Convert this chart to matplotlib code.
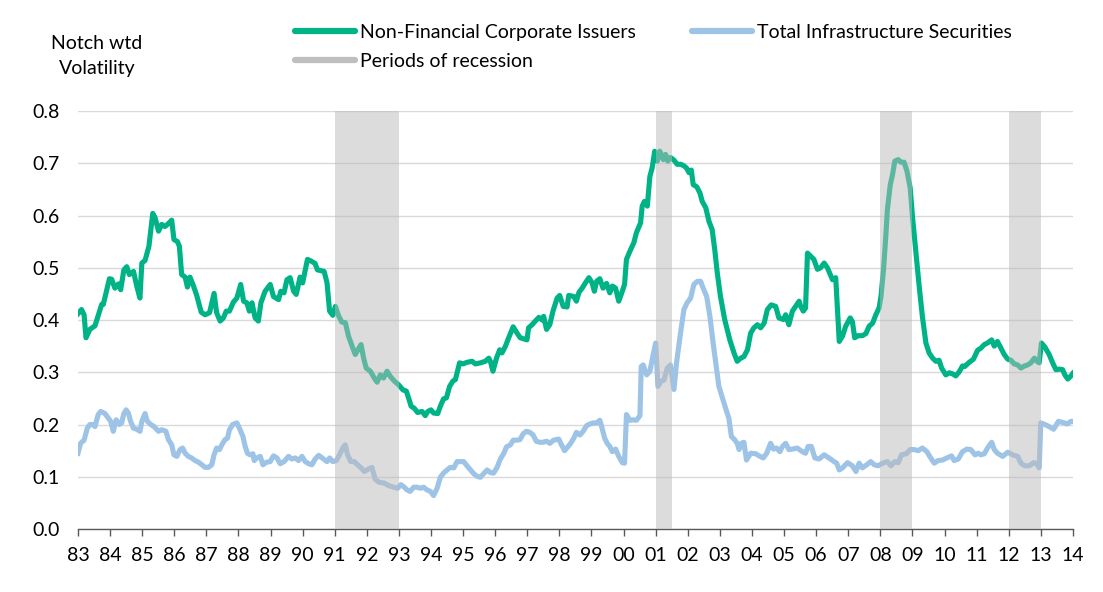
import numpy as np
import matplotlib
matplotlib.use("Agg")
import matplotlib.pyplot as plt
from matplotlib.lines import Line2D

plt.rcParams['font.family'] = ['Lato', 'DejaVu Sans']

base_year = 1983
# years after 1983 / value
nfc_t = [0.0, 0.11, 0.19, 0.25, 0.37, 0.53, 0.74, 0.79, 0.98, 1.05, 1.15, 1.26, 1.33, 1.43, 1.52, 1.60, 1.73, 1.83, 1.93, 1.99,
         2.09, 2.21, 2.33, 2.40, 2.51, 2.61, 2.71, 2.79, 2.92, 2.99, 3.10, 3.16, 3.23, 3.34, 3.41, 3.49, 3.60, 3.70, 3.84, 3.96,
         4.10, 4.24, 4.32, 4.43, 4.53, 4.62, 4.72, 4.84, 4.95, 5.07, 5.16, 5.26, 5.34, 5.42, 5.52, 5.62, 5.70, 5.83, 5.99, 6.09,
         6.25, 6.32, 6.42, 6.51, 6.61, 6.72, 6.80, 6.92, 7.00, 7.15, 7.26, 7.39, 7.46, 7.67, 7.76, 7.84, 7.94, 8.02, 8.12, 8.22,
         8.33, 8.43, 8.54, 8.64, 8.74, 8.82, 8.90, 8.98, 9.11, 9.23, 9.32, 9.42, 9.52, 9.63, 9.73, 9.86, 9.99, 10.13, 10.23, 10.30,
         10.38, 10.48, 10.58, 10.72, 10.82, 10.90, 11.00, 11.08, 11.21, 11.29, 11.39, 11.48, 11.58, 11.68, 11.76, 11.89, 12.00, 12.12, 12.28, 12.38,
         12.54, 12.69, 12.80, 12.85, 12.93, 13.04, 13.14, 13.21, 13.32, 13.42, 13.56, 13.68, 13.78, 13.89, 13.99, 14.04, 14.15, 14.25, 14.36, 14.46,
         14.51, 14.60, 14.70, 14.80, 14.93, 15.01, 15.12, 15.24, 15.29, 15.45, 15.53, 15.61, 15.71, 15.81, 15.92, 16.02, 16.09, 16.16, 16.26, 16.36,
         16.47, 16.57, 16.65, 16.75, 16.85, 16.96, 17.03, 17.09, 17.20, 17.32, 17.40, 17.53, 17.58, 17.65, 17.74, 17.82, 17.89, 17.97, 18.05, 18.13,
         18.24, 18.31, 18.38, 18.46, 18.57, 18.67, 18.78, 18.88, 18.96, 19.04, 19.11, 19.17, 19.28, 19.38, 19.45, 19.56, 19.66, 19.76, 19.84, 19.92,
         20.02, 20.15, 20.31, 20.44, 20.54, 20.65, 20.75, 20.86, 20.96, 21.06, 21.17, 21.27, 21.38, 21.48, 21.60, 21.74, 21.84, 21.98, 22.05, 22.15,
         22.26, 22.36, 22.47, 22.52, 22.60, 22.67, 22.73, 22.83, 22.93, 23.04, 23.14, 23.25, 23.35, 23.46, 23.51, 23.61, 23.66, 23.72, 23.82, 23.92,
         24.06, 24.13, 24.20, 24.31, 24.44, 24.55, 24.65, 24.76, 24.86, 24.96, 25.02, 25.10, 25.17, 25.22, 25.31, 25.38, 25.45, 25.56, 25.64, 25.74,
         25.83, 25.93, 26.00, 26.11, 26.21, 26.31, 26.42, 26.52, 26.63, 26.73, 26.83, 26.91, 27.04, 27.15, 27.25, 27.35, 27.46, 27.56, 27.63, 27.77,
         27.90, 28.03, 28.13, 28.24, 28.34, 28.47, 28.55, 28.65, 28.76, 28.86, 28.97, 29.07, 29.17, 29.28, 29.38, 29.49, 29.59, 29.69, 29.80, 29.88,
         29.95, 30.02, 30.13, 30.26, 30.37, 30.47, 30.58, 30.68, 30.75, 30.84, 30.94, 31.00]
nfc_v = [.412, .42, .41, .366, .382, .389, .43, .43, .479, .478, .461, .469, .458, .496, .502, .487, .493, .465, .442, .509,
         .514, .541, .604, .596, .57, .583, .579, .583, .591, .554, .55, .541, .487, .482, .463, .482, .465, .447, .415, .41,
         .414, .451, .414, .398, .404, .417, .417, .434, .442, .468, .436, .433, .417, .433, .404, .398, .433, .455, .468, .445,
         .439, .455, .452, .477, .481, .455, .449, .482, .471, .516, .513, .508, .496, .493, .471, .417, .409, .426, .408, .396,
         .395, .369, .35, .334, .345, .353, .327, .308, .302, .289, .281, .295, .289, .302, .292, .283, .276, .266, .264, .251,
         .235, .231, .223, .225, .217, .225, .228, .222, .221, .235, .249, .251, .273, .283, .286, .318, .316, .319, .321, .316,
         .318, .321, .327, .321, .302, .327, .343, .337, .35, .366, .387, .375, .366, .364, .362, .385, .391, .398, .405, .40,
         .407, .382, .391, .417, .442, .447, .426, .425, .447, .445, .436, .453, .461, .471, .481, .471, .455, .474, .479, .461,
         .47, .452, .465, .461, .436, .455, .468, .516, .532, .548, .567, .586, .618, .627, .618, .675, .691, .723, .704, .723,
         .707, .717, .704, .711, .706, .698, .698, .695, .691, .682, .687, .659, .655, .643, .627, .615, .589, .573, .535, .49,
         .445, .401, .362, .337, .321, .327, .33, .343, .375, .385, .391, .385, .394, .42, .429, .426, .404, .401, .41, .391,
         .417, .426, .436, .426, .417, .423, .528, .522, .516, .497, .50, .509, .50, .484, .477, .481, .426, .359, .369, .388,
         .404, .397, .366, .37, .37, .374, .388, .394, .41, .423, .445, .497, .56, .611, .659, .678, .704, .707, .702, .702,
         .685, .653, .599, .528, .465, .407, .356, .337, .327, .321, .323, .308, .295, .299, .297, .293, .301, .312, .311, .319,
         .325, .342, .346, .353, .356, .362, .35, .359, .346, .334, .325, .323, .316, .314, .308, .312, .314, .318, .327, .321,
         .318, .356, .348, .334, .318, .305, .306, .305, .295, .287, .293, .298]

infra_t = [0.0, 0.08, 0.19, 0.29, 0.37, 0.46, 0.53, 0.63, 0.71, 0.84, 0.95, 1.02, 1.10, 1.19, 1.29, 1.36, 1.43, 1.50, 1.57, 1.64,
           1.73, 1.83, 1.93, 1.99, 2.09, 2.16, 2.27, 2.37, 2.51, 2.61, 2.74, 2.82, 2.92, 2.99, 3.08, 3.18, 3.26, 3.34, 3.44, 3.54,
           3.65, 3.75, 3.86, 3.96, 4.06, 4.17, 4.24, 4.32, 4.41, 4.48, 4.58, 4.66, 4.72, 4.82, 4.95, 5.03, 5.14, 5.21, 5.28, 5.36,
           5.45, 5.49, 5.57, 5.68, 5.76, 5.88, 5.99, 6.09, 6.20, 6.30, 6.42, 6.56, 6.66, 6.77, 6.87, 6.98, 7.08, 7.19, 7.29, 7.39,
           7.50, 7.65, 7.76, 7.84, 7.94, 8.05, 8.15, 8.25, 8.33, 8.40, 8.50, 8.61, 8.71, 8.82, 8.92, 9.06, 9.16, 9.26, 9.40, 9.54,
           9.68, 9.84, 9.96, 10.06, 10.15, 10.25, 10.35, 10.46, 10.56, 10.67, 10.77, 10.87, 10.98, 11.08, 11.19, 11.29, 11.39, 11.50, 11.60, 11.71,
           11.81, 11.91, 12.02, 12.12, 12.23, 12.33, 12.43, 12.54, 12.64, 12.75, 12.85, 12.95, 13.06, 13.16, 13.27, 13.35, 13.47, 13.56, 13.66, 13.77,
           13.87, 13.97, 14.08, 14.18, 14.28, 14.39, 14.49, 14.60, 14.70, 14.82, 14.98, 15.05, 15.16, 15.26, 15.35, 15.45, 15.53, 15.64, 15.74, 15.85,
           15.95, 16.05, 16.16, 16.26, 16.33, 16.41, 16.49, 16.57, 16.65, 16.75, 16.85, 16.96, 17.03, 17.09, 17.20, 17.30, 17.40, 17.51, 17.55, 17.61,
           17.72, 17.82, 17.89, 18.00, 18.07, 18.17, 18.26, 18.36, 18.46, 18.57, 18.65, 18.76, 18.88, 18.98, 19.09, 19.19, 19.30, 19.40, 19.48, 19.59,
           19.69, 19.79, 19.90, 19.97, 20.08, 20.18, 20.28, 20.36, 20.46, 20.54, 20.60, 20.67, 20.75, 20.83, 20.96, 21.12, 21.22, 21.35, 21.46, 21.58,
           21.67, 21.77, 21.87, 21.95, 22.05, 22.15, 22.26, 22.41, 22.57, 22.67, 22.75, 22.85, 22.96, 23.09, 23.25, 23.40, 23.56, 23.64, 23.72, 23.82,
           23.98, 24.13, 24.24, 24.34, 24.44, 24.58, 24.70, 24.81, 24.93, 25.07, 25.22, 25.33, 25.45, 25.56, 25.66, 25.81, 25.93, 26.05, 26.18, 26.31,
           26.45, 26.57, 26.68, 26.80, 26.94, 27.07, 27.22, 27.30, 27.43, 27.56, 27.70, 27.82, 27.95, 28.05, 28.13, 28.24, 28.34, 28.47, 28.55, 28.65,
           28.81, 28.97, 29.12, 29.28, 29.38, 29.50, 29.64, 29.78, 29.88, 29.95, 30.00, 30.13, 30.26, 30.40, 30.55, 30.68, 30.82, 30.94, 31.00]
infra_v = [.145, .164, .17, .193, .20, .20, .196, .219, .225, .221, .212, .206, .187, .209, .20, .203, .221, .228, .222, .206,
           .193, .191, .187, .206, .221, .206, .20, .196, .187, .19, .187, .171, .161, .142, .139, .152, .155, .145, .139, .136,
           .131, .128, .123, .118, .118, .123, .142, .155, .152, .161, .171, .174, .19, .20, .203, .193, .177, .158, .145, .142,
           .144, .131, .136, .139, .123, .128, .129, .14, .136, .125, .129, .139, .134, .136, .131, .139, .129, .125, .123, .134,
           .141, .134, .129, .136, .129, .131, .142, .155, .161, .142, .129, .129, .123, .117, .11, .115, .118, .095, .089, .088,
           .083, .08, .078, .085, .081, .075, .072, .08, .08, .078, .08, .075, .072, .064, .078, .099, .107, .113, .118, .117,
           .129, .129, .129, .121, .113, .106, .101, .099, .106, .113, .108, .107, .118, .134, .145, .157, .161, .17, .17, .171,
           .182, .187, .185, .18, .168, .166, .166, .168, .164, .17, .172, .163, .15, .157, .164, .174, .185, .18, .187, .198,
           .201, .203, .203, .208, .193, .174, .164, .158, .148, .153, .139, .127, .126, .219, .208, .209, .208, .217, .311, .314,
           .295, .302, .324, .356, .273, .283, .285, .308, .314, .267, .318, .369, .42, .433, .442, .468, .474, .474, .461, .445,
           .407, .356, .305, .273, .251, .231, .212, .177, .171, .164, .152, .164, .166, .132, .145, .144, .14, .136, .145, .164,
           .153, .155, .148, .158, .164, .152, .153, .155, .148, .145, .158, .158, .136, .134, .142, .136, .129, .126, .113, .117,
           .127, .121, .11, .126, .117, .123, .129, .123, .121, .126, .129, .121, .129, .127, .142, .144, .152, .152, .15, .155,
           .148, .136, .126, .131, .132, .136, .14, .131, .134, .148, .153, .152, .142, .145, .142, .144, .155, .166, .152, .145,
           .139, .147, .142, .139, .126, .121, .121, .127, .125, .117, .203, .20, .196, .191, .206, .204, .201, .206, .206]

rec_start = [1991.0, 2001.0, 2008.0, 2012.0]
rec_end = [1993.0, 2001.5, 2009.0, 2013.0]

green = "#00B386"
blue = "#9DC3E6"
fs = 14

fig = plt.figure(figsize=(11.03, 5.92), dpi=100)
ax = fig.add_axes([0.0707, 0.1064, 0.902, 0.7061])

ax.plot(base_year + np.array(nfc_t), nfc_v, color=green, lw=3.7, solid_joinstyle="round", zorder=3)
ax.plot(base_year + np.array(infra_t), infra_v, color=blue, lw=3.7, solid_joinstyle="round", zorder=3)
for s, e in zip(rec_start, rec_end):
    ax.axvspan(s, e, color="#BBBBBB", alpha=0.5, lw=0, zorder=4)

ax.set_xlim(1983, 2014)
ax.set_ylim(0, 0.8)
years = np.arange(1983, 2015)
ax.set_xticks(years)
ax.set_xticklabels(["%02d" % (y % 100) for y in years], fontsize=fs)
ax.set_yticks(np.arange(0, 0.81, 0.1))
ax.set_yticklabels(["%.1f" % v for v in np.arange(0, 0.81, 0.1)], fontsize=fs)
ax.tick_params(axis="y", length=0, pad=13)
ax.tick_params(axis="x", length=5, width=1, color="#595959", pad=8)
ax.grid(axis="y", color="#D9D9D9", lw=1)
ax.set_axisbelow(True)
for side in ["top", "right", "left"]:
    ax.spines[side].set_visible(False)
ax.spines["bottom"].set_color("#595959")
ax.spines["bottom"].set_linewidth(1)

fig.text(0.088, 0.927, "Notch wtd", ha="center", va="center", fontsize=fs)
fig.text(0.088, 0.885, "Volatility", ha="center", va="center", fontsize=fs)

handles = [Line2D([], [], color=green, lw=4.5, solid_capstyle="round"),
           Line2D([], [], color="#BFBFBF", lw=4.5, solid_capstyle="round"),
           Line2D([], [], color=blue, lw=4.5, solid_capstyle="round")]
labels = ["Non-Financial Corporate Issuers", "Periods of recession", "Total Infrastructure Securities"]
fig.legend(handles, labels, ncol=2, loc="upper left", bbox_to_anchor=(0.267, 0.96), frameon=False,
           fontsize=fs, handlelength=3.1, handletextpad=0.26, columnspacing=2.9, labelspacing=0.64,
           borderpad=0, borderaxespad=0)

fig.savefig("out.png", dpi=100)
